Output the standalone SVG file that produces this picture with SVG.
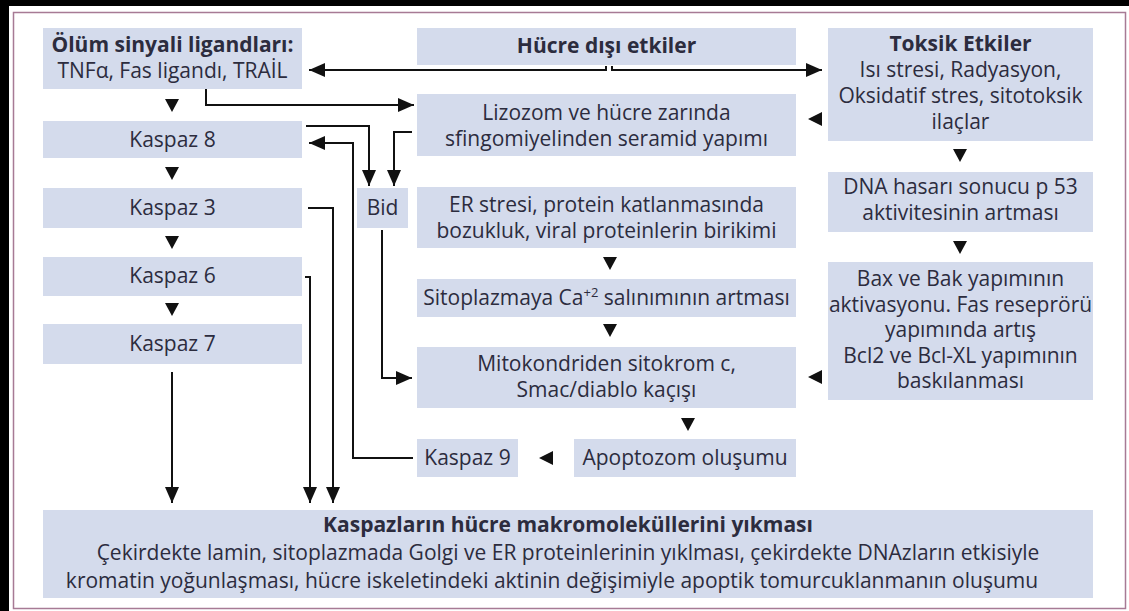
<svg xmlns="http://www.w3.org/2000/svg" width="1129" height="611" viewBox="0 0 1129 611">
<defs>
<style>
.box{fill:#d4dbec;}
.t{font-family:"Open Sans","Noto Sans","DejaVu Sans",sans-serif;font-size:21px;fill:#2c2c3e;text-anchor:middle;}
.b{font-weight:bold;}
.ln{fill:none;stroke:#111;stroke-width:2;}
.tri{fill:#111;}
</style>
<marker id="ah" viewBox="0 0 16 14" refX="16" refY="7" markerWidth="16" markerHeight="14" markerUnits="userSpaceOnUse" orient="auto">
<path d="M0,0 L16,7 L0,14 Z" fill="#111"/>
</marker>
</defs>
<rect x="0" y="0" width="1129" height="611" fill="#fff"/>
<rect x="0" y="0" width="1129" height="6" fill="#000"/>
<rect x="0" y="0" width="9" height="611" fill="#000"/>
<rect x="13.5" y="12.5" width="1112" height="596" fill="none" stroke="#a77a95" stroke-width="1.5"/>

<g id="olum"><rect class="box" x="43" y="28" width="259" height="61"/>
<text class="t b" x="172.5" y="52">Ölüm sinyali ligandları:</text>
<text class="t" x="172.5" y="78">TNFα, Fas ligandı, TRAİL</text></g>
<g id="kaspaz8"><rect class="box" x="43" y="121" width="259" height="37"/><text class="t" x="172.5" y="147">Kaspaz 8</text></g>
<g id="kaspaz3"><rect class="box" x="43" y="188" width="259" height="40"/><text class="t" x="172.5" y="215">Kaspaz 3</text></g>
<g id="kaspaz6"><rect class="box" x="43" y="257" width="259" height="39"/><text class="t" x="172.5" y="283">Kaspaz 6</text></g>
<g id="kaspaz7"><rect class="box" x="43" y="324" width="259" height="40"/><text class="t" x="172.5" y="351">Kaspaz 7</text></g>
<g id="bid"><rect class="box" x="357" y="188" width="51" height="40"/><text class="t" x="382.5" y="215">Bid</text></g>
<g id="hucre"><rect class="box" x="417" y="28" width="379" height="37"/><text class="t b" x="606.5" y="53">Hücre dışı etkiler</text></g>
<g id="lizozom"><rect class="box" x="417" y="94" width="379" height="62"/>
<text class="t" x="606.5" y="120">Lizozom ve hücre zarında</text>
<text class="t" x="606.5" y="146">sfingomiyelinden seramid yapımı</text></g>
<g id="er"><rect class="box" x="417" y="187" width="379" height="61"/>
<text class="t" x="606.5" y="212">ER stresi, protein katlanmasında</text>
<text class="t" x="606.5" y="238">bozukluk, viral proteinlerin birikimi</text></g>
<g id="sitoplazma"><rect class="box" x="417" y="279" width="379" height="38"/>
<text class="t" x="606.5" y="305">Sitoplazmaya Ca<tspan dy="-8" font-size="13">+2</tspan><tspan dy="8"> salınımının artması</tspan></text></g>
<g id="mitokondri"><rect class="box" x="417" y="347" width="379" height="61"/>
<text class="t" x="606.5" y="371">Mitokondriden sitokrom c,</text>
<text class="t" x="606.5" y="397">Smac/diablo kaçışı</text></g>
<g id="kaspaz9"><rect class="box" x="417" y="439" width="101" height="38"/><text class="t" x="467.5" y="465">Kaspaz 9</text></g>
<g id="apoptozom"><rect class="box" x="574" y="439" width="222" height="38"/><text class="t" x="685" y="465">Apoptozom oluşumu</text></g>
<g id="toksik"><rect class="box" x="828" y="28" width="265" height="113"/>
<text class="t b" x="960.5" y="51">Toksik Etkiler</text>
<text class="t" x="960.5" y="77">Isı stresi, Radyasyon,</text>
<text class="t" x="960.5" y="103">Oksidatif stres, sitotoksik</text>
<text class="t" x="960.5" y="129">ilaçlar</text></g>
<g id="dna"><rect class="box" x="828" y="172" width="265" height="60"/>
<text class="t" x="960.5" y="194">DNA hasarı sonucu p 53</text>
<text class="t" x="960.5" y="220">aktivitesinin artması</text></g>
<g id="bax"><rect class="box" x="828" y="262" width="265" height="138"/>
<text class="t" x="960.5" y="286">Bax ve Bak yapımının</text>
<text class="t" x="960.5" y="311.5">aktivasyonu. Fas reseprörü</text>
<text class="t" x="960.5" y="337">yapımında artış</text>
<text class="t" x="960.5" y="362.5">Bcl2 ve Bcl-XL yapımının</text>
<text class="t" x="960.5" y="388">baskılanması</text></g>
<g id="sonuc"><rect class="box" x="43" y="510" width="1050" height="88"/>
<text class="t b" x="568" y="532">Kaspazların hücre makromoleküllerini yıkması</text>
<text class="t" x="568" y="560">Çekirdekte lamin, sitoplazmada Golgi ve ER proteinlerinin yıklması, çekirdekte DNAzların etkisiyle</text>
<text class="t" x="552" y="588">kromatin yoğunlaşması, hücre iskeletindeki aktinin değişimiyle apoptik tomurcuklanmanın oluşumu</text></g>

<g id="connectors">
<path class="ln" d="M606,66 V70 H309" marker-end="url(#ah)"/>
<path class="ln" d="M612,66 V70 H822" marker-end="url(#ah)"/>
<path class="ln" d="M206,89 V105 H414" marker-end="url(#ah)"/>
<path class="ln" d="M306,126 H369 V186" marker-end="url(#ah)"/>
<path class="ln" d="M412,132 H394 V186" marker-end="url(#ah)"/>
<path class="ln" d="M413,458 H353 V143 H309" marker-end="url(#ah)"/>
<path class="ln" d="M382,230 V378 H412" marker-end="url(#ah)"/>
<path class="ln" d="M308,208 H333 V503" marker-end="url(#ah)"/>
<path class="ln" d="M305,277 H310 V503" marker-end="url(#ah)"/>
<path class="ln" d="M172,372 V503" marker-end="url(#ah)"/>
<path class="tri" d="M165,99 H179 L172,112 Z"/>
<path class="tri" d="M165,167 H179 L172,180 Z"/>
<path class="tri" d="M165,236 H179 L172,249 Z"/>
<path class="tri" d="M165,303 H179 L172,316 Z"/>
<path class="tri" d="M603,257 H617 L610,270 Z"/>
<path class="tri" d="M603,324 H617 L610,337 Z"/>
<path class="tri" d="M681,418 H695 L688,431 Z"/>
<path class="tri" d="M953,149 H967 L960,162 Z"/>
<path class="tri" d="M953,241 H967 L960,254 Z"/>
<path class="tri" d="M822,112 V126 L808,119 Z"/>
<path class="tri" d="M822,370 V384 L808,377 Z"/>
<path class="tri" d="M553,451 V465 L539,458 Z"/>
</g>
</svg>
